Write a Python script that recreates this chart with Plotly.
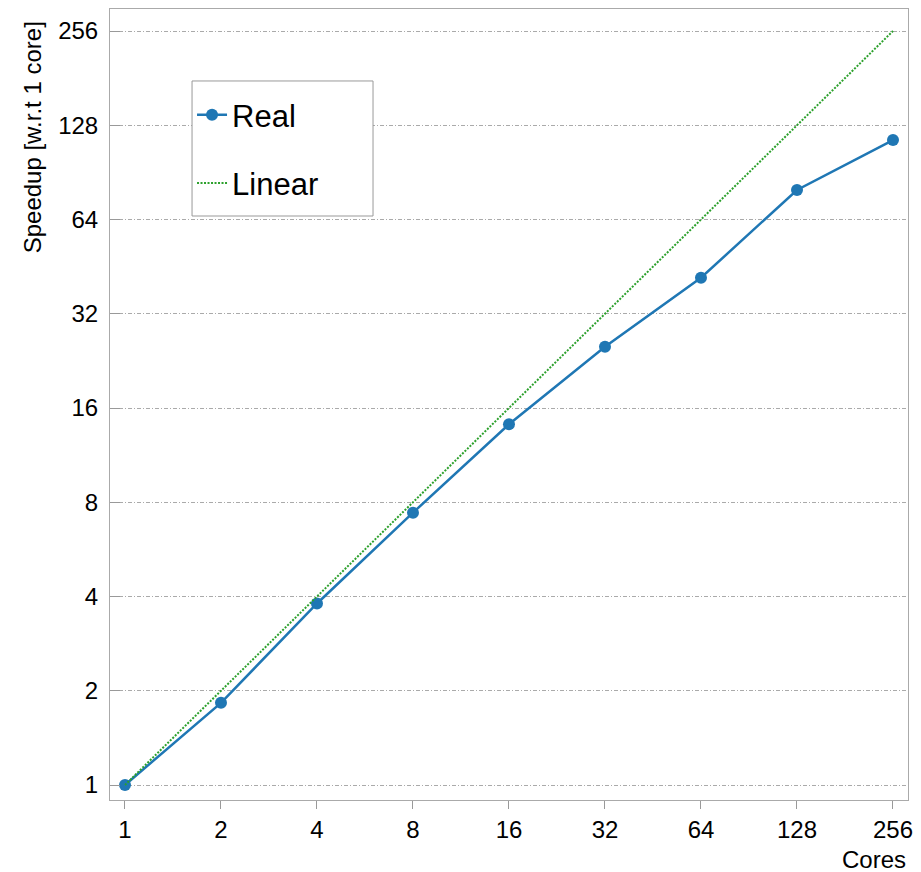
import plotly.graph_objects as go

cores = [1, 2, 4, 8, 16, 32, 64, 128, 256]
speedup_real = [1.0, 1.83, 3.80, 7.41, 14.2, 25.1, 41.7, 79.5, 114.8]
speedup_linear = [1, 2, 4, 8, 16, 32, 64, 128, 256]
tick_vals = [1, 2, 4, 8, 16, 32, 64, 128, 256]
tick_text = ["1", "2", "4", "8", "16", "32", "64", "128", "256"]

FONT = "Liberation Sans, Arial, sans-serif"

fig = go.Figure()
fig.add_trace(go.Scatter(
    x=cores, y=speedup_real, mode="lines+markers", name="Real",
    line=dict(color="#1f77b4", width=2.5),
    marker=dict(color="#1f77b4", size=12),
    legendgroup="a",
))
fig.add_trace(go.Scatter(
    x=cores, y=speedup_linear, mode="lines", name="Linear",
    line=dict(color="#2ca02c", width=2, dash="2px,1.5px"),
    legendgroup="b",
))

fig.update_layout(
    width=913, height=864,
    margin=dict(l=102, r=13, t=1, b=72),
    plot_bgcolor="white", paper_bgcolor="white",
    font=dict(family=FONT, size=24, color="black"),
    showlegend=True,
    legend=dict(
        x=0.1028, y=0.900, xanchor="left", yanchor="top",
        borderwidth=0, bgcolor="rgba(0,0,0,0)",
        font=dict(size=31, family=FONT),
        traceorder="grouped", tracegroupgap=25,
        itemwidth=30,
    ),
    shapes=[
        dict(type="rect", xref="paper", yref="paper",
             x0=0.1028, x1=0.3296, y0=0.7383, y1=0.909,
             line=dict(color="#999999", width=1), fillcolor="white",
             layer="above"),
    ],
    xaxis=dict(
        type="log", range=[-0.047, 2.4553],
        tickvals=tick_vals, ticktext=tick_text,
        ticks="outside", ticklen=8, tickcolor="#999999",
        showgrid=False, zeroline=False,
        showline=True, linecolor="#aaaaaa", linewidth=1, mirror=True,
        tickfont=dict(size=24),
    ),
    yaxis=dict(
        type="log", range=[-0.0479, 2.4785],
        tickvals=tick_vals, ticktext=tick_text,
        ticks="inside", ticklen=10, tickcolor="#999999",
        showgrid=True, gridcolor="#aaaaaa", griddash="4px,2px,1px,2px", gridwidth=1,
        zeroline=False,
        showline=True, linecolor="#aaaaaa", linewidth=1, mirror=True,
        tickfont=dict(size=24),
        ticklabelstandoff=6,
    ),
    annotations=[
        dict(text="Cores", xref="paper", yref="paper", x=1.0, y=-0.0746,
             xanchor="right", yanchor="middle", showarrow=False,
             font=dict(size=24)),
        dict(text="Speedup [w.r.t 1 core]", xref="paper", yref="paper",
             x=-0.0977, y=0.987, xanchor="center", yanchor="top",
             textangle=-90, showarrow=False, font=dict(size=24)),
    ],
)

fig.write_html("out.html")
